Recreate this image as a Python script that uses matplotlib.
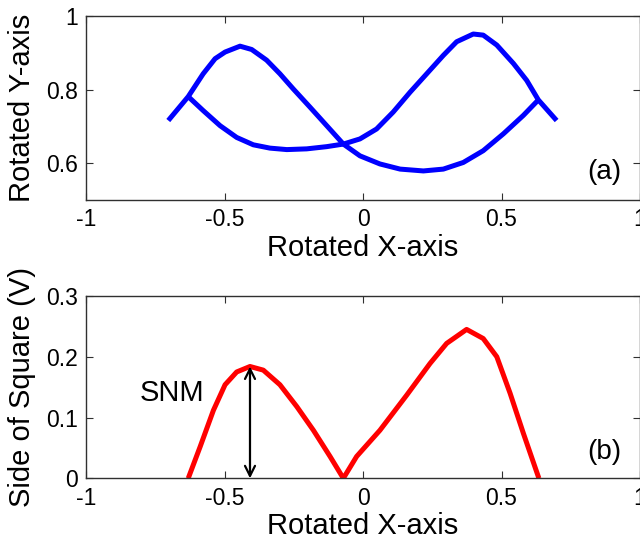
import numpy as np
import matplotlib
matplotlib.use("Agg")
import matplotlib.pyplot as plt

plt.rcParams['font.family'] = ['Liberation Sans', 'DejaVu Sans']

# Butterfly curves in rotated coordinates
curve1_x = [-0.703, -0.631, -0.577, -0.534, -0.498, -0.444, -0.402, -0.348, -0.300,
            -0.252, -0.191, -0.131, -0.071, -0.011, 0.061, 0.134, 0.218, 0.290,
            0.362, 0.434, 0.507, 0.579, 0.633]
curve1_y = [0.716, 0.781, 0.843, 0.884, 0.902, 0.918, 0.909, 0.880, 0.843,
            0.802, 0.752, 0.702, 0.652, 0.620, 0.598, 0.584, 0.579, 0.584,
            0.602, 0.634, 0.680, 0.730, 0.772]

curve2_x = [-0.631, -0.577, -0.516, -0.456, -0.396, -0.336, -0.275, -0.203, -0.131,
            -0.071, -0.011, 0.049, 0.109, 0.170, 0.230, 0.290, 0.338, 0.398,
            0.434, 0.483, 0.543, 0.591, 0.633, 0.699]
curve2_y = [0.781, 0.743, 0.702, 0.670, 0.650, 0.641, 0.637, 0.639, 0.645,
            0.652, 0.666, 0.693, 0.739, 0.793, 0.843, 0.893, 0.930, 0.951,
            0.948, 0.921, 0.871, 0.825, 0.772, 0.716]

# Side of the largest embedded square along the rotated X-axis
side_x = [-0.631, -0.588, -0.540, -0.498, -0.456, -0.408, -0.360, -0.300, -0.239,
          -0.179, -0.119, -0.071, -0.023, 0.061, 0.158, 0.242, 0.302, 0.374,
          0.434, 0.483, 0.531, 0.579, 0.635]
side_y = [0.0, 0.052, 0.112, 0.154, 0.175, 0.184, 0.178, 0.154, 0.118,
          0.079, 0.036, 0.0, 0.036, 0.079, 0.137, 0.189, 0.222, 0.245,
          0.230, 0.200, 0.140, 0.074, 0.0]

snm_x = -0.408
snm_value = 0.184

x_ticks = [-1, -0.5, 0, 0.5, 1]
x_tick_labels = ['-1', '-0.5', '0', '0.5', '1']
top_y_ticks = [0.6, 0.8, 1.0]
top_y_tick_labels = ['0.6', '0.8', '1']
bot_y_ticks = [0, 0.1, 0.2, 0.3]
bot_y_tick_labels = ['0', '0.1', '0.2', '0.3']

fig = plt.figure(figsize=(6.4, 5.4), dpi=100)
ax1 = fig.add_axes([0.1344, 0.6296, 0.8656, 0.3408])
ax2 = fig.add_axes([0.1344, 0.1142, 0.8656, 0.3377])

TICK_FS = 16.5
LABEL_FS = 21
spine_col = '#303030'

for ax in (ax1, ax2):
    ax.set_xlim(-1, 1)
    ax.set_xticks(x_ticks)
    ax.set_xticklabels(x_tick_labels)
    ax.tick_params(direction='in', top=True, right=True, length=5, width=0.8,
                   labelsize=TICK_FS, pad=6, color=spine_col)
    for s in ax.spines.values():
        s.set_color(spine_col)
        s.set_linewidth(1.0)

ax1.plot(curve1_x, curve1_y, color='#0000ff', lw=3.6, solid_capstyle='butt',
         solid_joinstyle='round')
ax1.plot(curve2_x, curve2_y, color='#0000ff', lw=3.6, solid_capstyle='butt',
         solid_joinstyle='round')
ax1.set_ylim(0.5, 1.0)
ax1.set_yticks(top_y_ticks)
ax1.set_yticklabels(top_y_tick_labels)
ax1.set_xlabel('Rotated X-axis', fontsize=LABEL_FS, labelpad=2)
ax1.set_ylabel('Rotated Y-axis', fontsize=LABEL_FS, labelpad=7)
ax1.text(0.87, 0.575, '(a)', fontsize=20, ha='center', va='center')

ax2.plot(side_x, side_y, color='#ff0000', lw=3.6, solid_capstyle='butt',
         solid_joinstyle='round')
ax2.set_ylim(0, 0.3)
ax2.set_yticks(bot_y_ticks)
ax2.set_yticklabels(bot_y_tick_labels)
ax2.set_xlabel('Rotated X-axis', fontsize=LABEL_FS, labelpad=2)
ax2.set_ylabel('Side of Square (V)', fontsize=LABEL_FS, labelpad=7)
ax2.annotate('', xy=(snm_x, snm_value), xytext=(snm_x, 0.0),
             arrowprops=dict(arrowstyle='<->', color='black', lw=1.6,
                             shrinkA=0, shrinkB=0, mutation_scale=18))
ax2.text(-0.69, 0.141, 'SNM', fontsize=21, ha='center', va='center')
ax2.text(0.87, 0.044, '(b)', fontsize=20, ha='center', va='center')

fig.savefig('out.png', dpi=100)
